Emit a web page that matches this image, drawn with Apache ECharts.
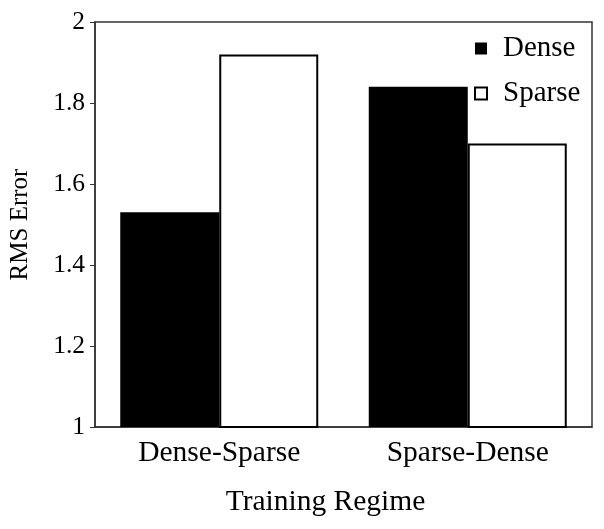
<!DOCTYPE html>
<html><head><meta charset="utf-8">
<script src="https://cdn.jsdelivr.net/npm/echarts@6/dist/echarts.min.js"></script>
<style>html,body{margin:0;padding:0;background:#fff}#c{width:604px;height:529px}</style>
</head><body><div id="c"></div>
<script>
var categories = ['Dense-Sparse', 'Sparse-Dense'];
var denseValues = [1.53, 1.84];
var sparseValues = [1.92, 1.70];
var yTicks = [1, 1.2, 1.4, 1.6, 1.8, 2];

var FONT = 'Liberation Serif';
var chart = echarts.init(document.getElementById('c'));
chart.setOption({
  animation: false,
  backgroundColor: '#fff',
  textStyle: {fontFamily: FONT},
  grid: {left: 94, right: 12, top: 22, bottom: 102, show: true, borderColor: '#333', borderWidth: 1.5, backgroundColor: 'transparent'},
  legend: {
    orient: 'vertical', left: 469, top: 29, itemWidth: 12, itemHeight: 12, itemGap: 16,
    textStyle: {fontFamily: FONT, fontSize: 29, color: '#000', padding: [0, 0, 0, 11]},
    data: [
      {name: 'Dense', icon: 'rect', itemStyle: {color: '#000', borderColor: '#000', borderWidth: 0}},
      {name: 'Sparse', icon: 'rect', itemStyle: {color: '#fff', borderColor: '#000', borderWidth: 2}}
    ]
  },
  xAxis: {
    type: 'category', data: categories,
    name: 'Training Regime', nameLocation: 'middle', nameGap: 60,
    nameTextStyle: {fontFamily: FONT, fontSize: 29.5, color: '#000', padding: [0, 36, 0, 0]},
    axisLine: {lineStyle: {color: '#333', width: 1.5}},
    axisTick: {alignWithLabel: true, length: 5, lineStyle: {color: '#333'}},
    axisLabel: {fontFamily: FONT, fontSize: 29.5, color: '#000', margin: 11}
  },
  yAxis: {
    type: 'value', min: 1, max: 2, interval: 0.2,
    name: 'RMS Error', nameLocation: 'middle', nameGap: 62,
    nameTextStyle: {fontFamily: FONT, fontSize: 25, color: '#000'},
    axisLine: {show: true, lineStyle: {color: '#333', width: 1.5}},
    axisTick: {show: true, length: 5, lineStyle: {color: '#333'}},
    splitLine: {show: false},
    axisLabel: {fontFamily: FONT, fontSize: 25.5, color: '#000', margin: 10,
      formatter: function (v) { var t = yTicks.find(function (y) { return Math.abs(y - v) < 1e-6; }); return t === undefined ? '' : String(t); }}
  },
  series: [
    {name: 'Dense', type: 'bar', data: denseValues, barWidth: 99, barGap: '0%',
     itemStyle: {color: '#000', borderColor: '#000', borderWidth: 0}},
    {name: 'Sparse', type: 'bar', data: sparseValues, barWidth: 99, barGap: '0%',
     itemStyle: {color: '#fff', borderColor: '#000', borderWidth: 2}}
  ]
});
</script></body></html>
